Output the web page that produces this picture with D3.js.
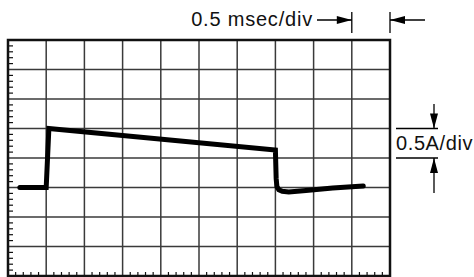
<!DOCTYPE html>
<html><head><meta charset="utf-8">
<script src="https://cdn.jsdelivr.net/npm/d3@7"></script>
<style>html,body{margin:0;padding:0;background:#fff;}svg{display:block;}</style>
</head><body>
<script>
// Data (in grid divisions)
const xDivisions = d3.range(0, 11);          // 10 horizontal divisions
const yDivisions = d3.range(0, 9);           // 8 vertical divisions
const minorPerDiv = 5;
const timeLabel = "0.5 msec/div";
const ampLabel = "0.5A/div";
const waveX = [0.31, 1.0, 1.07, 7.0, 7.02, 7.04, 7.09, 7.18, 7.35, 7.8, 8.5, 9.3];
const waveY = [3.0, 3.0, 5.0, 4.27, 3.3, 3.03, 2.92, 2.87, 2.85, 2.9, 2.98, 3.05];

const W = 474, H = 277;
const svg = d3.select("body").append("svg").attr("width", W).attr("height", H);
const x = d3.scaleLinear().domain([0, 10]).range([8, 390]);
const y = d3.scaleLinear().domain([0, 8]).range([276, 40]);

// grid
const g = svg.append("g");
g.selectAll("line.v").data(xDivisions.slice(1, -1)).join("line")
  .attr("x1", d => x(d)).attr("x2", d => x(d)).attr("y1", y(8)).attr("y2", y(0))
  .attr("stroke", "#3a3a3a").attr("stroke-width", 1.5);
g.selectAll("line.h").data(yDivisions.slice(1, -1)).join("line")
  .attr("y1", d => y(d)).attr("y2", d => y(d)).attr("x1", x(0)).attr("x2", x(10))
  .attr("stroke", "#3a3a3a").attr("stroke-width", 1.5);

// minor ticks
const minorX = d3.range(0, 10 * minorPerDiv).filter(i => i % minorPerDiv !== 0).map(i => i / minorPerDiv);
const minorY = d3.range(0, 8 * minorPerDiv).filter(i => i % minorPerDiv !== 0).map(i => i / minorPerDiv);
g.selectAll("line.mx").data(minorX).join("line")
  .attr("x1", d => x(d)).attr("x2", d => x(d)).attr("y1", y(0)).attr("y2", y(0) - 4)
  .attr("stroke", "#111").attr("stroke-width", 1.2);
g.selectAll("line.my").data(minorY).join("line")
  .attr("y1", d => y(d)).attr("y2", d => y(d)).attr("x1", x(0)).attr("x2", x(0) + 5)
  .attr("stroke", "#111").attr("stroke-width", 1.2);

// border
g.append("rect").attr("x", x(0)).attr("y", y(8)).attr("width", x(10) - x(0)).attr("height", y(0) - y(8))
  .attr("fill", "none").attr("stroke", "#111").attr("stroke-width", 2.5);

// waveform
const pts = waveX.map((d, i) => [d, waveY[i]]);
svg.append("path").datum(pts)
  .attr("d", d3.line().x(d => x(d[0])).y(d => y(d[1])))
  .attr("fill", "none").attr("stroke", "#000").attr("stroke-width", 5)
  .attr("stroke-linecap", "round").attr("stroke-linejoin", "miter");

// arrow helper
function arrow(x1, y1, x2, y2) {
  svg.append("line").attr("x1", x1).attr("y1", y1).attr("x2", x2).attr("y2", y2)
    .attr("stroke", "#000").attr("stroke-width", 1.3);
  const ang = Math.atan2(y2 - y1, x2 - x1), L = 15, hw = 4;
  const bx = x2 - L * Math.cos(ang), by = y2 - L * Math.sin(ang);
  const px = -Math.sin(ang) * hw, py = Math.cos(ang) * hw;
  svg.append("path").attr("d", `M${x2},${y2}L${bx + px},${by + py}L${bx - px},${by - py}Z`).attr("fill", "#000");
}

// time annotation
const font = "'Liberation Sans', Arial, Helvetica, sans-serif";
svg.append("text").attr("x", 313).attr("y", 26).attr("text-anchor", "end")
  .attr("font-family", font).attr("font-size", 20).attr("letter-spacing", 0.8).attr("fill", "#111").text(timeLabel);
[9, 10].forEach(d => svg.append("line").attr("x1", x(d)).attr("x2", x(d)).attr("y1", 12).attr("y2", 33)
  .attr("stroke", "#000").attr("stroke-width", 1.3));
arrow(317, 20, x(9), 20);
arrow(425, 20, x(10), 20);

// amplitude annotation
[5, 4].forEach(d => svg.append("line").attr("x1", 396).attr("x2", 438).attr("y1", y(d)).attr("y2", y(d))
  .attr("stroke", "#000").attr("stroke-width", 1.3));
arrow(434, 104, 434, y(5));
arrow(434, 193, 434, y(4));
svg.append("text").attr("x", 396).attr("y", 150)
  .attr("font-family", font).attr("font-size", 20).attr("letter-spacing", 0.6).attr("fill", "#111").text(ampLabel);
</script>
</body></html>
